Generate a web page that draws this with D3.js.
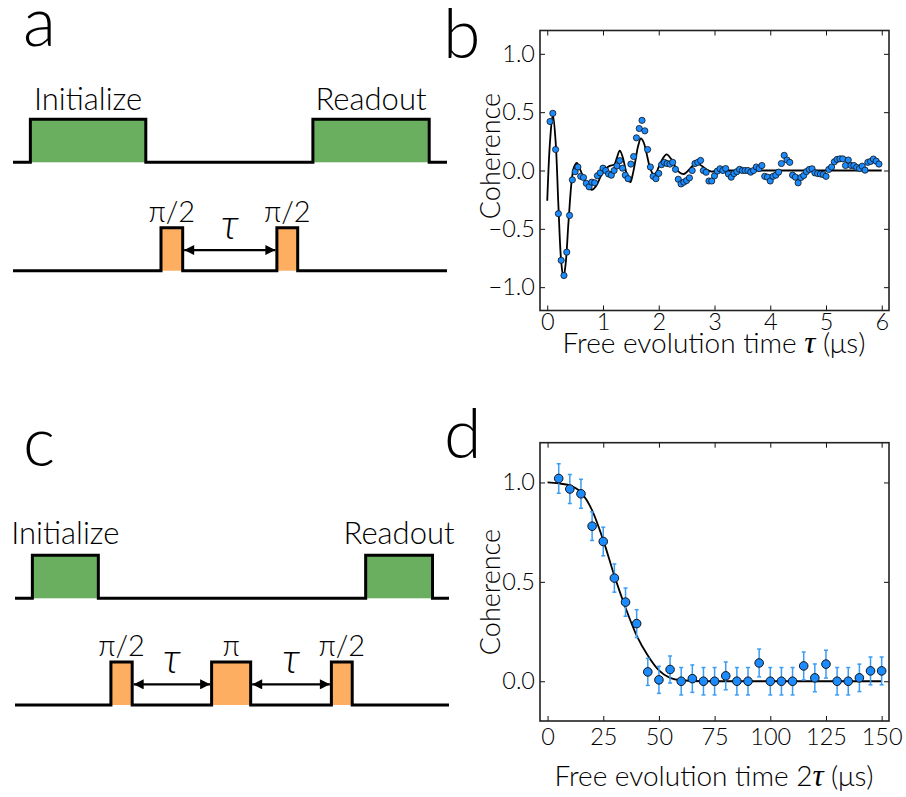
<!DOCTYPE html>
<html><head><meta charset="utf-8">
<script src="https://cdn.jsdelivr.net/npm/d3@7"></script>
<style>
body{margin:0;background:#fff}
svg text{font-family:Lato,Roboto,"Open Sans",sans-serif;font-weight:300;fill:#000}
</style>
</head><body>
<svg id="fig" width="906" height="797"></svg>
<script>
// ---------- DATA ----------
// Panel b: Ramsey (free induction decay)
const ramseyT = [0.05,0.10,0.15,0.20,0.25,0.30,0.35,0.40,0.45,0.50,0.55,0.60,0.65,0.70,0.75,0.80,0.85,0.90,0.95,1.00,
1.05,1.10,1.15,1.20,1.25,1.30,1.35,1.40,1.45,1.50,1.55,1.60,1.65,1.70,1.75,1.80,1.85,1.90,1.95,2.00,
2.05,2.10,2.15,2.20,2.25,2.30,2.35,2.40,2.45,2.50,2.55,2.60,2.65,2.70,2.75,2.80,2.85,2.90,2.95,3.00,
3.05,3.10,3.15,3.20,3.25,3.30,3.35,3.40,3.45,3.50,3.55,3.60,3.65,3.70,3.75,3.80,3.85,3.90,3.95,4.00,
4.05,4.10,4.15,4.20,4.25,4.30,4.35,4.40,4.45,4.50,4.55,4.60,4.65,4.70,4.75,4.80,4.85,4.90,4.95,5.00,
5.05,5.10,5.15,5.20,5.25,5.30,5.35,5.40,5.45,5.50,5.55,5.60,5.65,5.70,5.75,5.80,5.85,5.90,5.95];
const ramseyC = [0.42,0.49,0.18,-0.37,-0.77,-0.90,-0.70,-0.385,-0.08,-0.01,0.03,-0.05,-0.06,-0.11,-0.14,-0.10,-0.105,-0.045,-0.02,0.02,
0.00,-0.03,-0.04,0.00,0.04,0.085,0.02,-0.04,-0.07,0.055,0.12,0.28,0.36,0.43,0.34,0.18,0.03,-0.05,-0.07,-0.025,
0.05,0.07,0.06,0.055,0.07,0.01,-0.075,-0.115,-0.10,-0.086,-0.063,0.00,0.06,0.07,0.086,0.00,-0.015,-0.09,-0.09,-0.046,
-0.005,0.015,0.00,0.017,-0.03,-0.057,-0.026,-0.01,0.01,0.00,0.00,0.00,-0.014,0.00,0.03,0.017,0.043,-0.05,-0.057,-0.09,
-0.05,-0.04,-0.014,0.06,0.13,0.09,0.07,-0.04,-0.057,-0.106,-0.06,-0.043,-0.009,0.009,0.015,-0.02,-0.026,-0.03,-0.035,-0.05,
0.009,0.03,0.075,0.095,0.10,0.10,0.043,0.09,0.043,0.043,0.026,0.017,0.037,0.003,0.07,0.078,0.098,0.08,0.055];
const ramseyFitT = [0.00,0.05,0.10,0.15,0.20,0.25,0.29,0.33,0.38,0.44,0.48,0.53,0.58,0.64,0.72,0.80,0.88,0.96,1.04,1.12,
1.20,1.25,1.30,1.35,1.40,1.45,1.49,1.53,1.58,1.63,1.68,1.73,1.78,1.84,1.90,1.95,2.00,2.07,2.14,2.22,
2.30,2.38,2.45,2.53,2.61,2.69,2.77,2.85,2.95,3.05,3.50,4.00,5.00,6.00];
const ramseyFitC = [-0.26,0.25,0.48,0.25,-0.30,-0.78,-0.92,-0.80,-0.45,-0.08,0.03,0.066,0.02,-0.05,-0.13,-0.165,-0.13,-0.05,0.01,0.04,
0.05,0.11,0.17,0.12,0.02,-0.08,-0.10,-0.04,0.08,0.21,0.275,0.24,0.15,0.03,-0.03,-0.02,0.03,0.10,0.138,0.10,
0.03,-0.02,-0.03,0.00,0.04,0.06,0.04,0.01,-0.01,0.00,0.00,0.00,0.00,0.00];
const bXTicks = [0,1,2,3,4,5,6];
const bYTicks = [-1.0,-0.5,0.0,0.5,1.0];

// Panel d: Hahn echo
const echoT = [5,10,15,20,25,30,35,40,45,50,55,60,65,70,75,80,85,90,95,100,105,110,115,120,125,130,135,140,145,150];
const echoC = [1.02,0.967,0.943,0.78,0.703,0.519,0.398,0.29,0.047,0.007,0.059,0.0,0.013,0.0,0.0,0.027,0.0,0.0,0.092,0.0,
0.0,0.0,0.077,0.017,0.086,0.0,0.0,0.017,0.052,0.052];
const echoErr = [0.074,0.073,0.073,0.072,0.072,0.071,0.071,0.07,0.068,0.068,0.068,0.069,0.069,0.069,0.069,0.07,0.069,0.069,0.07,0.069,
0.069,0.069,0.07,0.07,0.07,0.069,0.069,0.069,0.07,0.07];
const echoFitT = [0,5,10,15,20,25,30,35,40,45,50,55,60,70,80,150];
const echoFitC = [1.0,0.995,0.985,0.95,0.86,0.71,0.53,0.37,0.23,0.13,0.055,0.017,0.005,0.0,0.0,0.0];
const dXTicks = [0,25,50,75,100,125,150];
const dYTicks = [0.0,0.5,1.0];

// Pulse sequences (time units 0..100 along each timeline)
const aLaserPulses = [[4.0,30.6],[69.1,95.9]];
const aLaserLabels = ["Initialize","Readout"];
const aMwPulses = [[34.1,39.1],[60.8,65.6]];
const aMwLabels = ["π/2","π/2"];
const cLaserPulses = [[4.0,19.2],[80.8,96.2]];
const cLaserLabels = ["Initialize","Readout"];
const cMwPulses = [[22.1,27.0],[45.3,54.3],[72.9,77.7]];
const cMwLabels = ["π/2","π","π/2"];
const panelLetters = ["a","b","c","d"];

// ---------- DRAW ----------
const svg = d3.select("#fig");
const BLUE = "#1a8cff", ERR = "#3a9cf5", GREEN = "#6aaf5f", ORANGE = "#fdae61";
const TAU_FONT = "'Liberation Serif','DejaVu Serif',serif";

svg.append("defs").append("marker")
  .attr("id","ah").attr("viewBox","0 0 10 10").attr("refX",10).attr("refY",5)
  .attr("markerWidth",11).attr("markerHeight",10).attr("markerUnits","userSpaceOnUse")
  .attr("orient","auto-start-reverse")
  .append("path").attr("d","M0,0 L10,5 L0,10 Z").attr("fill","#000");

function frame(x, y, xTicks, yTicks, xFmt, yFmt, padX){
  const g = svg.append("g");
  const [x0,x1] = x.range(), [y0,y1] = y.range();
  g.append("g").attr("transform",`translate(0,${y0})`)
    .call(d3.axisBottom(x).tickValues(xTicks).tickSize(-5).tickSizeOuter(0).tickPadding(padX).tickFormat(xFmt));
  g.append("g").attr("transform",`translate(0,${y1})`)
    .call(d3.axisTop(x).tickValues(xTicks).tickSize(-5).tickSizeOuter(0).tickFormat(""));
  g.append("g").attr("transform",`translate(${x0},0)`)
    .call(d3.axisLeft(y).tickValues(yTicks).tickSize(-5).tickSizeOuter(0).tickPadding(5).tickFormat(yFmt));
  g.append("g").attr("transform",`translate(${x1},0)`)
    .call(d3.axisRight(y).tickValues(yTicks).tickSize(-5).tickSizeOuter(0).tickFormat(""));
  g.selectAll(".domain").remove();
  g.selectAll(".tick line").attr("stroke","#111").attr("stroke-width",1);
  g.selectAll("text").attr("font-size",23.5).attr("font-family",null).attr("fill","#000");
  g.append("rect").attr("x",x0).attr("y",y1).attr("width",x1-x0).attr("height",y0-y1)
    .attr("fill","none").attr("stroke","#222").attr("stroke-width",1.6);
}

const fmt1 = d => d3.format(".1f")(d);

// Panel b
const xb = d3.scaleLinear().domain([-0.13,6.13]).range([540,889]);
const yb = d3.scaleLinear().domain([-1.2,1.2]).range([310.5,30.5]);
frame(xb, yb, bXTicks, bYTicks, d3.format("d"), fmt1, 3);
svg.append("path").datum(d3.zip(ramseyFitT, ramseyFitC))
  .attr("d", d3.line().x(d=>xb(d[0])).y(d=>yb(d[1])).curve(d3.curveCatmullRom.alpha(0.5)))
  .attr("fill","none").attr("stroke","#000").attr("stroke-width",1.8);
svg.append("g").selectAll("circle").data(d3.zip(ramseyT, ramseyC)).join("circle")
  .attr("cx",d=>xb(d[0])).attr("cy",d=>yb(d[1])).attr("r",3.1)
  .attr("fill",BLUE).attr("stroke","#111").attr("stroke-width",0.8);

// Panel d
const xd = d3.scaleLinear().domain([-3.4,153.3]).range([540,889]);
const yd = d3.scaleLinear().domain([-0.2,1.2]).range([721,442.7]);
frame(xd, yd, dXTicks, dYTicks, d3.format("d"), fmt1, 7);
svg.append("path").datum(d3.zip(echoFitT, echoFitC))
  .attr("d", d3.line().x(d=>xd(d[0])).y(d=>yd(d[1])).curve(d3.curveMonotoneX))
  .attr("fill","none").attr("stroke","#000").attr("stroke-width",1.8);
const eb = svg.append("g").selectAll("g").data(d3.zip(echoT, echoC, echoErr)).join("g");
eb.append("line").attr("x1",d=>xd(d[0])).attr("x2",d=>xd(d[0]))
  .attr("y1",d=>yd(d[1]-d[2])).attr("y2",d=>yd(d[1]+d[2])).attr("stroke",ERR).attr("stroke-width",1.5);
eb.each(function(d){
  const s = d3.select(this);
  [d[1]-d[2], d[1]+d[2]].forEach(v=>{
    s.append("line").attr("x1",xd(d[0])-2).attr("x2",xd(d[0])+2).attr("y1",yd(v)).attr("y2",yd(v))
      .attr("stroke",ERR).attr("stroke-width",1.5);
  });
});
eb.append("circle").attr("cx",d=>xd(d[0])).attr("cy",d=>yd(d[1])).attr("r",4.3)
  .attr("fill",BLUE).attr("stroke","#111").attr("stroke-width",1);

// Axis titles
function xTitle(x, y, pre){
  const t = svg.append("text").attr("x",x).attr("y",y).attr("text-anchor","middle").attr("font-size",28);
  t.append("tspan").text(pre);
  t.append("tspan").attr("font-family",TAU_FONT).attr("font-style","italic").attr("font-size",31).text("τ");
  t.append("tspan").text(" (μs)");
}
xTitle(714, 353, "Free evolution time ");
xTitle(714, 786, "Free evolution time 2");
[156, 592].forEach(cy=>{
  svg.append("text").attr("transform",`translate(500,${cy}) rotate(-90)`).attr("text-anchor","middle")
    .attr("font-size",27).text("Coherence");
});

// Panel letters
const letterPos = [[23,46],[443,58],[23,466],[444,458]];
panelLetters.forEach((l,i)=>{
  svg.append("text").attr("x",letterPos[i][0]).attr("y",letterPos[i][1]).attr("font-size",68).text(l);
});

// Pulse sequence diagrams
function sequence(x0, x1, laserBase, mwBase, laserPulses, laserLabels, mwPulses, mwLabels, laserLabelGap, mwLabelGap){
  const t = d3.scaleLinear().domain([0,100]).range([x0,x1]);
  const amp = d3.scaleLinear().domain([0,1]).range([0,43]);
  const g = svg.append("g");
  function track(base, pulses, color){
    g.selectAll(null).data(pulses).join("rect")
      .attr("x",d=>t(d[0])).attr("y",base-amp(1)).attr("width",d=>t(d[1])-t(d[0])).attr("height",amp(1))
      .attr("fill",color);
    let p = `M${t(0)},${base}`;
    pulses.forEach(d=>{ p += `H${t(d[0])}V${base-amp(1)}H${t(d[1])}V${base}`; });
    p += `H${t(100)}`;
    g.append("path").attr("d",p).attr("fill","none").attr("stroke","#000").attr("stroke-width",3).attr("stroke-linejoin","miter");
  }
  track(laserBase, laserPulses, GREEN);
  track(mwBase, mwPulses, ORANGE);
  g.selectAll(null).data(laserPulses).join("text")
    .attr("x",d=>t((d[0]+d[1])/2)).attr("y",laserBase-amp(1)-laserLabelGap)
    .attr("text-anchor","middle").attr("font-size",31).text((d,i)=>laserLabels[i]);
  g.selectAll(null).data(mwPulses).join("text")
    .attr("x",d=>t((d[0]+d[1])/2)).attr("y",mwBase-amp(1)-mwLabelGap)
    .attr("text-anchor","middle").attr("font-size",29).text((d,i)=>mwLabels[i]);
  const ay = mwBase - amp(0.48);
  for(let i=0;i<mwPulses.length-1;i++){
    const a = t(mwPulses[i][1])+1.5, b = t(mwPulses[i+1][0])-1.5;
    g.append("line").attr("x1",a).attr("x2",b).attr("y1",ay).attr("y2",ay)
      .attr("stroke","#000").attr("stroke-width",2.2)
      .attr("marker-start","url(#ah)").attr("marker-end","url(#ah)");
    g.append("text").attr("x",(a+b)/2).attr("y",ay-11).attr("text-anchor","middle")
      .attr("font-family",TAU_FONT).attr("font-style","italic").attr("font-size",42).text("τ");
  }
}
sequence(13, 447, 162.3, 270.7, aLaserPulses, aLaserLabels, aMwPulses, aMwLabels, 9, 6);
sequence(15, 449, 598.3, 705, cLaserPulses, cLaserLabels, cMwPulses, cMwLabels, 11, 6);
</script>
</body></html>
